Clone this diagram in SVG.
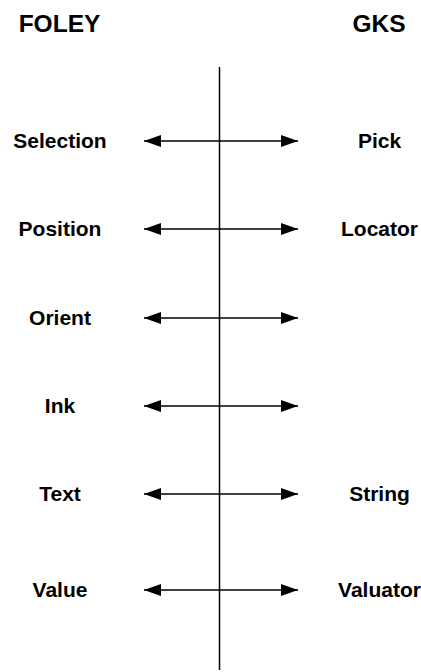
<svg xmlns="http://www.w3.org/2000/svg" width="421" height="672" viewBox="0 0 421 672">
<style>
text{font-family:"Liberation Sans",Arial,sans-serif;font-weight:bold;text-anchor:middle;fill:#000}
.h{font-size:24.5px}
.l{font-size:21px}
.c{stroke:#000;stroke-width:1.5;fill:none}
</style>
<defs>
<marker id="a" viewBox="0 0 17 12" refX="17" refY="6" markerWidth="17" markerHeight="12" markerUnits="userSpaceOnUse" orient="auto-start-reverse">
<path d="M0,0 L17,6 L0,12 Z" fill="#000"/>
</marker>
</defs>
<rect width="421" height="672" fill="#fff"/>
<g id="headers">
<text class="h" x="59.5" y="31.5">FOLEY</text>
<text class="h" x="379" y="31.5">GKS</text>
</g>
<g id="connectors">
<line class="c" x1="219.5" y1="67" x2="219.5" y2="670"/>
<line class="c" x1="144" y1="141" x2="298" y2="141" marker-start="url(#a)" marker-end="url(#a)"/>
<line class="c" x1="144" y1="229" x2="298" y2="229" marker-start="url(#a)" marker-end="url(#a)"/>
<line class="c" x1="144" y1="318" x2="298" y2="318" marker-start="url(#a)" marker-end="url(#a)"/>
<line class="c" x1="144" y1="406" x2="298" y2="406" marker-start="url(#a)" marker-end="url(#a)"/>
<line class="c" x1="144" y1="494" x2="298" y2="494" marker-start="url(#a)" marker-end="url(#a)"/>
<line class="c" x1="144" y1="590" x2="298" y2="590" marker-start="url(#a)" marker-end="url(#a)"/>
</g>
<g id="n-selection"><text class="l" x="60" y="147.5">Selection</text></g>
<g id="n-pick"><text class="l" x="379.5" y="147.5">Pick</text></g>
<g id="n-position"><text class="l" x="60" y="235.5">Position</text></g>
<g id="n-locator"><text class="l" x="379.5" y="235.5">Locator</text></g>
<g id="n-orient"><text class="l" x="60" y="324.5">Orient</text></g>
<g id="n-ink"><text class="l" x="60" y="412.5">Ink</text></g>
<g id="n-text"><text class="l" x="60" y="500.5">Text</text></g>
<g id="n-string"><text class="l" x="379.5" y="500.5">String</text></g>
<g id="n-value"><text class="l" x="60" y="596.5">Value</text></g>
<g id="n-valuator"><text class="l" x="379.5" y="596.5">Valuator</text></g>
</svg>
